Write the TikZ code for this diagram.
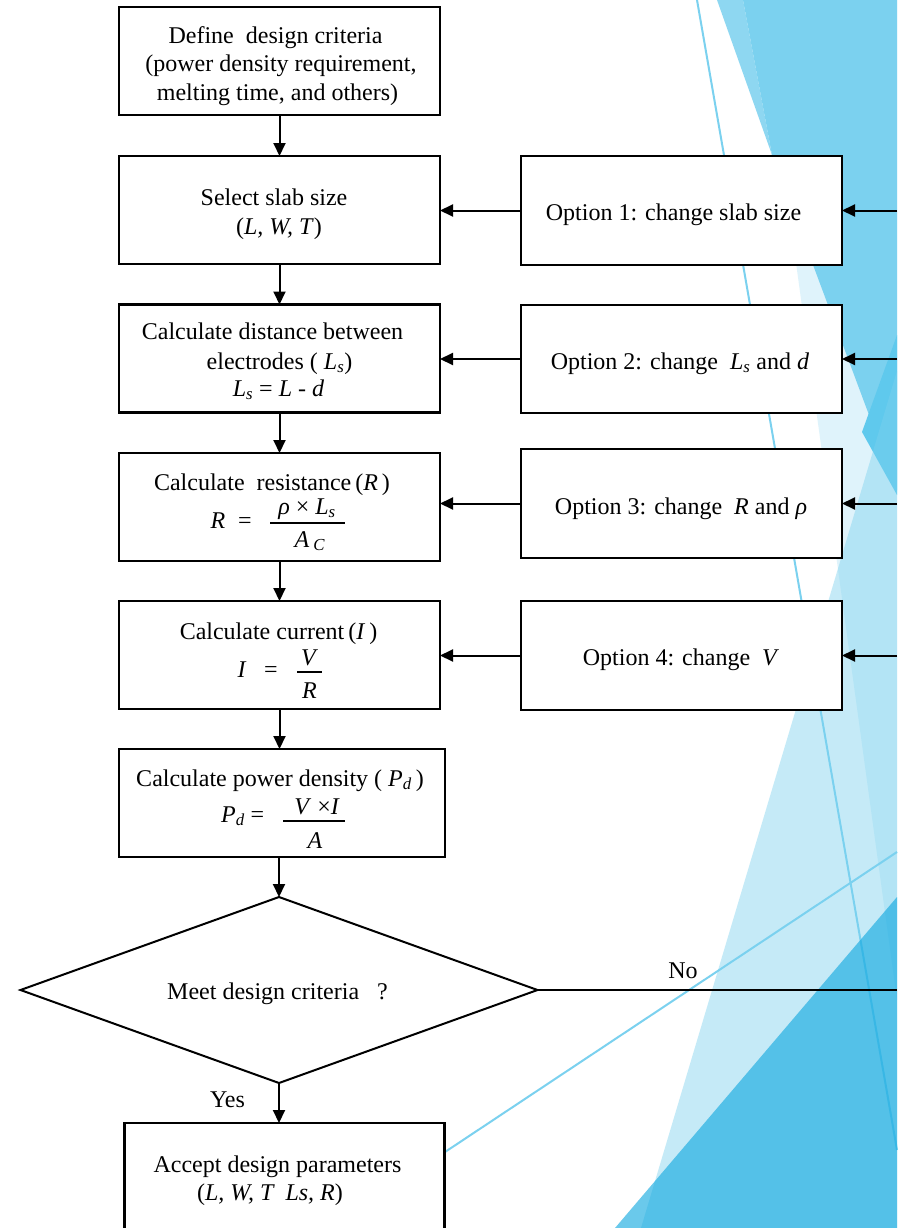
\documentclass[tikz,border=0pt]{standalone}
\usepackage{fontspec}
\setmainfont{Liberation Serif}
\usetikzlibrary{arrows.meta,shapes.geometric}
\definecolor{bl}{HTML}{7BD1EF}
\definecolor{dk}{HTML}{0FA8E0}
\definecolor{wedgec}{HTML}{5FC9ED}
\newcommand\mi[1]{\textit{#1}}
\newcommand\sub[1]{\textsubscript{\textit{#1}}}
\begin{document}
\begin{tikzpicture}[x=1pt,y=-1pt,
  box/.style={draw,line width=2.2pt,fill=white,inner sep=0pt,outer sep=0pt},
  txt/.style={inner sep=0pt,anchor=base,font=\fontsize{24}{28.5}\selectfont},
  arr/.style={line width=2pt,-{Triangle[length=13pt,width=12pt]}},
  fbar/.style={line width=1.8pt},
  bgline/.style={draw=bl,line width=2pt}]
\useasboundingbox (0,0) rectangle (897,1228);
\fill[white] (0,0) rectangle (897,1228);
% background facets
\draw[bgline] (697,0) -- (897,1150);
\draw[bgline] (445,1152) -- (897,852);
\fill[bl,opacity=0.24] (760,0) -- (897,0) -- (897,1000) -- cycle;
\fill[bl,opacity=0.85] (717,0) -- (743,0) -- (772,155) -- cycle;
\fill[bl] (743,0) -- (897,0) -- (897,490) -- (772,155) -- cycle;
\fill[wedgec] (897,335) -- (862,432) -- (897,495) -- cycle;
\fill[bl,opacity=0.44] (897,371) -- (897,1228) -- (641,1228) -- cycle;
\fill[dk,opacity=0.62] (897,897) -- (897,1228) -- (615,1228) -- cycle;
% boxes
\node[box,minimum width=321pt,minimum height=108pt] (b1) at (279.5,61) {};
\node[box,minimum width=321pt,minimum height=108pt] (b2) at (279.5,210) {};
\node[box,minimum width=321pt,minimum height=108pt] (b3) at (279.5,358.5) {};
\node[box,minimum width=321pt,minimum height=108pt] (b4) at (279.5,507) {};
\node[box,minimum width=321pt,minimum height=108pt] (b5) at (279.5,655) {};
\node[box,minimum width=326pt,minimum height=108pt] (b6) at (282,803) {};
\node[draw,line width=2pt,fill=white,shape=diamond,inner sep=0pt,outer sep=0pt,
  shape aspect=2.78,minimum width=517pt,minimum height=186pt] (dec) at (279,990) {};
\node[box,minimum width=320pt,minimum height=110pt] (b7) at (284.5,1178) {};
\node[box,minimum width=321pt,minimum height=109pt] (o1) at (681.5,210.5) {};
\node[box,minimum width=321pt,minimum height=108pt] (o2) at (681.5,359) {};
\node[box,minimum width=321pt,minimum height=109pt] (o3) at (681.5,503.5) {};
\node[box,minimum width=321pt,minimum height=109pt] (o4) at (681.5,655.5) {};
% texts
\node[txt] (b1a) at (275.5,43.5) {Define \ design criteria};
\node[txt] (b1b) at (281,72) {(power density requirement,};
\node[txt] (b1c) at (277.5,100.5) {melting time, and others)};
\node[txt] (b2a) at (274,205) {Select slab size};
\node[txt] (b2b) at (279,234) {(\mi{L, W, T})};
\node[txt] (b3a) at (272.5,339) {Calculate distance between};
\node[txt] (b3b) at (279.5,369) {electrodes ( \mi{L}\sub{s})};
\node[txt] (b3c) at (278.5,396) {\mi{L}\sub{s} = \mi{L} - \mi{d}};
\node[txt] (b4a) at (272,490) {Calculate \ resistance\,(\mi{R}\,)};
\node[txt] (b4r) at (218,528) {\mi{R}};
\node[txt] (b4e) at (245,528) {=};
\node[txt] (b4n) at (307,514) {\mi{ρ} × \mi{L}\sub{s}};
\node[txt] (b4d) at (310,547) {\mi{A}\,\sub{C}};
\node[txt] (b5a) at (278.5,639) {Calculate current\,(\mi{I}\,)};
\node[txt] (b5i) at (242,677) {\mi{I}};
\node[txt] (b5e) at (271,677) {=};
\node[txt] (b5n) at (309.5,665) {\mi{V}};
\node[txt] (b5d) at (309.5,698) {\mi{R}};
\node[txt] (b6a) at (280,786) {Calculate power density ( \mi{P}\sub{d}\,)};
\node[txt] (b6p) at (233,822) {\mi{P}\sub{d}};
\node[txt] (b6e) at (257.5,822) {=};
\node[txt] (b6n) at (317,814) {\mi{V} ×\mi{I}};
\node[txt] (b6d) at (315,848) {\mi{A}};
\node[txt] (dect) at (277.5,999) {Meet design criteria \ \ ?};
\node[txt] (b7a) at (277.5,1172) {Accept design parameters};
\node[txt] (b7b) at (270,1200) {(\mi{L, W, T \ Ls, R})};
\node[txt] (o1t) at (673.5,220) {Option 1: change slab size};
\node[txt] (o2t) at (680,369) {Option 2: change \ \mi{L}\sub{s} and \mi{d}};
\node[txt] (o3t) at (681,514) {Option 3: change \ \mi{R} and \mi{ρ}};
\node[txt] (o4t) at (681,665) {Option 4: change \ \mi{V}};
\node[txt] (yes) at (227.5,1107) {Yes};
\node[txt] (no) at (683,978) {No};
% fraction bars
\coordinate (f4l) at (270,523); \coordinate (f4r) at (345,523);
\coordinate (f5l) at (297,672); \coordinate (f5r) at (322,672);
\coordinate (f6l) at (283,821); \coordinate (f6r) at (345,821);
\draw[fbar] (f4l) -- (f4r);
\draw[fbar] (f5l) -- (f5r);
\draw[fbar] (f6l) -- (f6r);
% connectors
\draw[arr] (b1.south) -- (b2.north);
\draw[arr] (b2.south) -- (b3.north);
\draw[arr] (b3.south) -- (b4.north);
\draw[arr] (b4.south) -- (b5.north);
\draw[arr] (b5.south) -- (b5.south |- b6.north);
\draw[arr] (dec.north |- b6.south) -- (dec.north);
\draw[arr] (dec.south) -- (dec.south |- b7.north);
\draw[arr] (o1.west) -- (o1.west -| b2.east);
\draw[arr] (o2.west) -- (o2.west -| b3.east);
\draw[arr] (o3.west) -- (o3.west -| b4.east);
\draw[arr] (o4.west) -- (o4.west -| b5.east);
\coordinate (r1) at (897,210.5);
\coordinate (r2) at (897,359);
\coordinate (r3) at (897,503.5);
\coordinate (r4) at (897,655.5);
\coordinate (rn) at (897,990);
\draw[arr] (r1) -- (o1.east);
\draw[arr] (r2) -- (o2.east);
\draw[arr] (r3) -- (o3.east);
\draw[arr] (r4) -- (o4.east);
\draw[line width=1.1pt] (dec.east) -- (rn);
\end{tikzpicture}
\end{document}
